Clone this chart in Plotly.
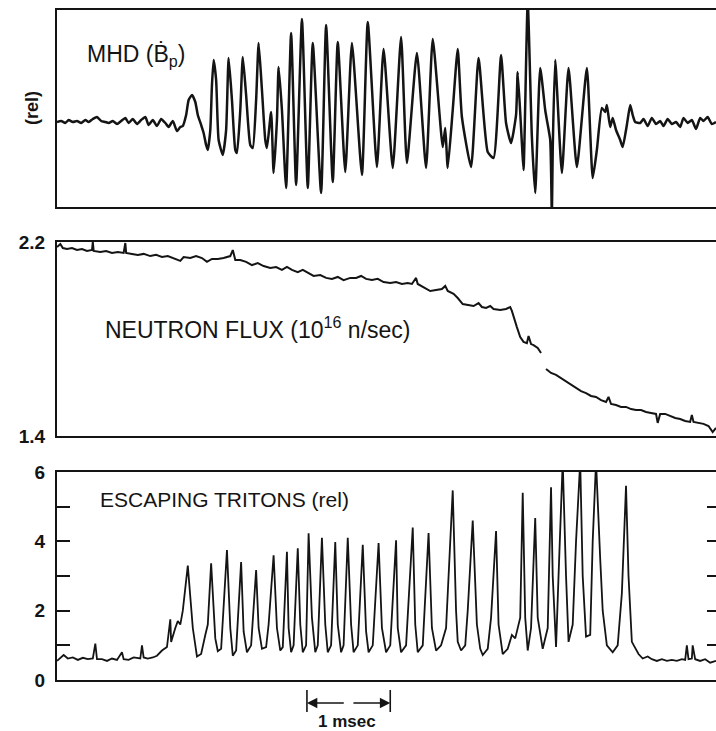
import plotly.graph_objects as go

# ---------------- data (time in ms from left edge of the record) ----------------
mhd_t = [0.00, 0.05, 0.10, 0.14, 0.19, 0.24, 0.29, 0.34, 0.38, 0.43, 0.48, 0.53, 0.58, 0.62,
         0.67, 0.72, 0.77, 0.82, 0.86, 0.91, 0.96, 1.01, 1.06, 1.10, 1.15, 1.20, 1.25, 1.30,
         1.34, 1.39, 1.44, 1.48, 1.51, 1.55, 1.58, 1.62, 1.66, 1.69, 1.73, 1.76, 1.79, 1.81,
         1.84, 1.86, 1.88, 1.91, 1.94, 1.99, 2.03, 2.06, 2.10, 2.14, 2.16, 2.20, 2.23, 2.27,
         2.32, 2.35, 2.39, 2.42, 2.46, 2.50, 2.52, 2.57, 2.60, 2.64, 2.66, 2.70, 2.75, 2.81,
         2.87, 2.94, 3.01, 3.07, 3.17, 3.23, 3.31, 3.37, 3.46, 3.54, 3.66, 3.73, 3.84, 3.92,
         4.03, 4.13, 4.20, 4.32, 4.43, 4.51, 4.63, 4.66, 4.69, 4.75, 4.81, 4.86, 4.97, 5.06,
         5.17, 5.24, 5.33, 5.39, 5.45, 5.51, 5.53, 5.58, 5.60, 5.65, 5.70, 5.74, 5.80, 5.86,
         5.88, 5.92, 5.94, 5.95, 5.98, 6.06, 6.14, 6.24, 6.36, 6.43, 6.48, 6.54, 6.58, 6.60,
         6.64, 6.67, 6.71, 6.76, 6.79, 6.84, 6.88, 6.91, 6.94, 7.00, 7.04, 7.09, 7.14, 7.19,
         7.24, 7.28, 7.33, 7.38, 7.43, 7.48, 7.52, 7.57, 7.62, 7.67, 7.72, 7.76, 7.81, 7.86,
         7.91]
mhd_v = [0.0, 0.1, -0.1, 0.2, 0.0, 0.1, -0.1, 0.2, 0.0, 0.3, 0.5, 0.1, 0.0, -0.1,
         0.1, -0.2, 0.1, 0.4, -0.1, 0.3, -0.2, 0.2, 0.5, -0.3, 0.2, -0.4, 0.3, -0.1,
         -0.5, 0.1, -0.9, -0.5, -0.4, 0.7, 2.2, 2.7, 2.0, 0.7, -0.3, -1.1, -2.3, -2.8,
         -0.8, 3.7, 6.2, 4.2, -1.8, -3.3, -0.8, 6.4, 2.2, -2.8, -3.1, 1.2, 6.5, 2.7,
         -2.3, -2.6, 2.2, 7.9, 3.2, -1.8, -2.6, 1.0, -5.1, 0.2, 5.5, 1.2, -6.6, 8.9,
         -6.3, 10.3, -6.6, 7.9, -7.1, 9.7, -6.0, 8.0, -5.0, 7.9, -5.3, 10.0, -4.5, 7.3,
         -4.6, 8.5, -4.1, 6.9, -4.6, 8.3, -2.5, -0.6, -4.6, 1.2, 7.3, 0.5, -4.5, 6.4,
         -3.0, -3.6, 6.7, -0.1, -2.1, 0.7, 5.0, -2.1, -4.8, 12.0, -1.5, -7.1, 5.4, 1.2,
         0.2, -1.8, -9.5, -2.8, 6.2, -5.1, 5.4, -4.5, 5.4, -5.6, -2.8, 1.4, 1.0, 1.7,
         -0.5, 0.4, -0.8, -1.8, -2.5, -0.3, 1.7, 0.7, 0.0, -0.1, 0.3, -0.4, 0.4, -0.2,
         0.1, -0.4, 0.3, -0.2, 0.0, -0.5, 0.4, -0.1, 0.2, -0.7, 0.4, 0.1, 0.5, -0.2,
         0.0]

neutron_t = [0.00, 0.04, 0.07, 0.12, 0.18, 0.24, 0.30, 0.36, 0.42, 0.43, 0.44, 0.52, 0.59, 0.66,
             0.73, 0.80, 0.82, 0.83, 0.90, 0.97, 1.04, 1.12, 1.19, 1.26, 1.33, 1.40, 1.48, 1.52,
             1.60, 1.67, 1.74, 1.80, 1.86, 1.93, 2.00, 2.08, 2.11, 2.14, 2.20, 2.27, 2.34, 2.41,
             2.48, 2.56, 2.63, 2.70, 2.76, 2.82, 2.89, 2.95, 3.01, 3.08, 3.16, 3.23, 3.30, 3.37,
             3.44, 3.52, 3.59, 3.65, 3.71, 3.78, 3.85, 3.92, 4.00, 4.07, 4.14, 4.21, 4.26, 4.31,
             4.33, 4.40, 4.48, 4.55, 4.62, 4.66, 4.69, 4.76, 4.81, 4.87, 4.93, 5.00, 5.06, 5.10,
             5.15, 5.20, 5.24, 5.32, 5.39, 5.44, 5.46, 5.48, 5.52, 5.56, 5.60, 5.64, 5.66, 5.69,
             5.72, 5.77, 5.81, 5.84, 5.87, 5.93, 5.99, 6.05, 6.11, 6.17, 6.23, 6.29, 6.35, 6.41,
             6.47, 6.53, 6.59, 6.62, 6.65, 6.71, 6.77, 6.83, 6.89, 6.95, 7.01, 7.07, 7.13, 7.19,
             7.21, 7.24, 7.30, 7.36, 7.42, 7.48, 7.54, 7.60, 7.62, 7.64, 7.70, 7.76, 7.82, 7.87,
             7.91]
neutron_v = [2.179, 2.192, 2.175, 2.171, 2.175, 2.167, 2.171, 2.163, 2.167, 2.200, 2.163, 2.159, 2.163, 2.155,
             2.159, 2.155, 2.196, 2.155, 2.151, 2.147, 2.151, 2.142, 2.147, 2.138, 2.142, 2.134, 2.122, 2.138,
             2.134, 2.142, 2.134, 2.118, 2.130, 2.130, 2.134, 2.142, 2.167, 2.126, 2.126, 2.118, 2.105, 2.113,
             2.101, 2.093, 2.097, 2.085, 2.097, 2.085, 2.076, 2.085, 2.072, 2.060, 2.064, 2.052, 2.048, 2.056,
             2.043, 2.052, 2.052, 2.060, 2.048, 2.043, 2.048, 2.035, 2.031, 2.035, 2.027, 2.031, 2.027, 2.052,
             2.027, 2.014, 1.998, 2.002, 2.006, 2.019, 1.998, 1.986, 1.969, 1.944, 1.940, 1.936, 1.948, 1.932,
             1.928, 1.936, 1.924, 1.920, 1.924, 1.932, 1.916, 1.891, 1.849, 1.808, 1.788, 1.783, 1.812, 1.779,
             1.775, 1.763, 1.742, None, 1.676, 1.660, 1.652, 1.639, 1.627, 1.614, 1.598, 1.585, 1.577, 1.565,
             1.561, 1.548, 1.540, 1.561, 1.532, 1.528, 1.520, 1.520, 1.511, 1.507, 1.507, 1.499, 1.495, 1.491,
             1.454, 1.491, 1.491, 1.482, 1.474, 1.470, 1.462, 1.458, 1.487, 1.458, 1.454, 1.450, 1.441, 1.416,
             1.433]

triton_t = [0.00, 0.04, 0.08, 0.13, 0.19, 0.25, 0.31, 0.37, 0.43, 0.46, 0.48, 0.54, 0.60, 0.66,
            0.72, 0.78, 0.80, 0.86, 0.92, 1.00, 1.02, 1.04, 1.09, 1.15, 1.20, 1.26, 1.32, 1.36,
            1.37, 1.42, 1.45, 1.48, 1.51, 1.57, 1.63, 1.68, 1.73, 1.78, 1.81, 1.85, 1.90, 1.93,
            1.97, 2.04, 2.08, 2.11, 2.15, 2.21, 2.24, 2.28, 2.33, 2.39, 2.42, 2.46, 2.51, 2.54,
            2.60, 2.64, 2.68, 2.71, 2.76, 2.78, 2.81, 2.84, 2.89, 2.92, 2.95, 2.99, 3.02, 3.06,
            3.10, 3.13, 3.18, 3.22, 3.25, 3.29, 3.34, 3.37, 3.41, 3.44, 3.49, 3.53, 3.56, 3.61,
            3.67, 3.71, 3.74, 3.79, 3.86, 3.90, 3.95, 4.00, 4.07, 4.09, 4.13, 4.19, 4.27, 4.30,
            4.33, 4.39, 4.46, 4.50, 4.55, 4.61, 4.67, 4.75, 4.79, 4.81, 4.85, 4.90, 4.93, 4.99,
            5.04, 5.08, 5.11, 5.17, 5.21, 5.27, 5.30, 5.35, 5.41, 5.46, 5.50, 5.56, 5.59, 5.62,
            5.65, 5.69, 5.74, 5.77, 5.83, 5.89, 5.93, 5.95, 5.99, 6.02, 6.07, 6.11, 6.14, 6.19,
            6.23, 6.28, 6.31, 6.35, 6.40, 6.43, 6.47, 6.52, 6.55, 6.60, 6.67, 6.73, 6.78, 6.83,
            6.86, 6.90, 6.95, 6.98, 7.03, 7.09, 7.14, 7.20, 7.26, 7.32, 7.38, 7.44, 7.50, 7.54,
            7.56, 7.58, 7.62, 7.63, 7.66, 7.72, 7.78, 7.84, 7.91]
triton_v = [0.55, 0.65, 0.72, 0.62, 0.65, 0.58, 0.64, 0.60, 0.62, 1.05, 0.60, 0.60, 0.55, 0.62,
            0.58, 0.80, 0.60, 0.58, 0.65, 0.62, 1.00, 0.65, 0.62, 0.65, 0.70, 0.85, 0.95, 1.75,
            1.10, 1.50, 1.70, 1.60, 2.00, 3.30, 1.50, 0.68, 0.75, 1.30, 1.60, 3.37, 1.20, 0.83,
            0.90, 3.75, 1.50, 0.70, 0.85, 3.40, 1.40, 0.80, 1.00, 3.17, 1.50, 0.90, 0.95, 1.60,
            3.60, 1.50, 0.85, 0.95, 3.70, 1.50, 0.80, 1.00, 3.80, 1.60, 0.80, 1.00, 4.23, 1.80,
            0.80, 1.00, 4.10, 1.60, 0.80, 1.00, 3.98, 1.60, 0.80, 1.00, 4.10, 1.60, 0.80, 1.00,
            3.90, 1.40, 0.80, 1.00, 3.95, 1.50, 0.80, 1.00, 4.03, 1.50, 0.80, 1.00, 4.40, 1.60,
            0.80, 1.00, 4.24, 1.50, 0.85, 1.00, 1.50, 5.47, 2.00, 1.10, 0.85, 1.00, 2.00, 4.60,
            1.60, 0.90, 0.72, 0.90, 1.80, 4.30, 1.60, 0.75, 0.90, 1.30, 1.20, 1.80, 5.40, 1.80,
            0.85, 1.50, 4.67, 1.80, 0.90, 1.50, 5.56, 3.00, 0.95, 3.00, 6.30, 3.00, 1.10, 1.60,
            4.00, 6.30, 3.00, 1.25, 1.30, 4.00, 6.30, 3.50, 2.00, 1.00, 0.80, 1.00, 2.50, 5.60,
            3.00, 1.10, 0.90, 0.75, 0.62, 0.68, 0.60, 0.55, 0.60, 0.55, 0.58, 0.55, 0.60, 0.58,
            1.00, 0.60, 0.62, 1.00, 0.60, 0.55, 0.60, 0.50, 0.55]

neutron_ticks = [1.4, 2.2]
neutron_ticktext = ["1.4", "2.2"]
triton_ticks = [0, 1, 2, 3, 4, 5, 6]
triton_ticktext = ["0", "", "2", "", "4", "", "6"]
triton_right_ticks = [1, 2, 3, 4, 5]
scale_bar_ms = [3.0, 4.0]

T_MAX = 7.91
INK = "#141414"
FONT = "Liberation Sans"

fig = go.Figure()
fig.add_trace(go.Scatter(x=mhd_t, y=mhd_v, mode="lines", xaxis="x", yaxis="y",
                         line=dict(color=INK, width=2.5, shape="spline", smoothing=0.5),
                         hoverinfo="skip"))
fig.add_trace(go.Scatter(x=neutron_t, y=neutron_v, mode="lines", xaxis="x2", yaxis="y2",
                         line=dict(color=INK, width=2.0), connectgaps=False, hoverinfo="skip"))
fig.add_trace(go.Scatter(x=triton_t, y=triton_v, mode="lines", xaxis="x3", yaxis="y3",
                         line=dict(color=INK, width=1.8), hoverinfo="skip"))
fig.add_trace(go.Scatter(x=[None], y=[None], mode="lines", xaxis="x3", yaxis="y4",
                         hoverinfo="skip"))

frame = dict(showgrid=False, zeroline=False, showline=True, linecolor=INK, linewidth=2)
tickfont = dict(family=FONT, size=19, color=INK, weight="bold")

fig.update_layout(
    width=716, height=731,
    margin=dict(l=57, r=0, t=10, b=51),
    paper_bgcolor="white", plot_bgcolor="white",
    showlegend=False,
    font=dict(family=FONT, color=INK),
    xaxis=dict(domain=[0, 1], anchor="y", range=[0, T_MAX], mirror=True,
               ticks="", showticklabels=False, **frame),
    yaxis=dict(domain=[0.706, 1], anchor="x", range=[-8.5, 11.2],
               ticks="", showticklabels=False, **frame),
    xaxis2=dict(domain=[0, 1], anchor="y2", range=[0, T_MAX], mirror=True,
                ticks="", showticklabels=False, **frame),
    yaxis2=dict(domain=[0.3642, 0.6537], anchor="x2", range=[1.4, 2.2],
                tickvals=neutron_ticks, ticktext=neutron_ticktext, ticks="",
                tickfont=tickfont, ticklabelstandoff=6, **frame),
    xaxis3=dict(domain=[0, 1], anchor="y3", range=[0, T_MAX], mirror=True,
                ticks="", showticklabels=False, **frame),
    yaxis3=dict(domain=[0, 0.3104], anchor="x3", range=[0, 6],
                tickvals=triton_ticks, ticktext=triton_ticktext,
                ticks="inside", ticklen=13, tickwidth=1.5, tickcolor=INK,
                tickfont=tickfont, ticklabelstandoff=6, **frame),
    yaxis4=dict(overlaying="y3", anchor="x3", side="right", range=[0, 6],
                tickvals=triton_right_ticks, ticks="inside", ticklen=9,
                tickwidth=1.5, tickcolor=INK, showticklabels=False,
                showgrid=False, zeroline=False, showline=False),
)

fig.add_annotation(text="MHD (Ḃ<sub>p</sub>)", x=0.0425, y=0.9328, xref="paper", yref="paper",
                   xanchor="left", yanchor="middle", showarrow=False,
                   font=dict(family=FONT, size=23, color=INK))
fig.add_annotation(text="(rel)", x=-0.038, y=0.8537, xref="paper", yref="paper",
                   textangle=-90, xanchor="center", yanchor="middle", showarrow=False,
                   font=dict(family=FONT, size=18, color=INK, weight="bold"))
fig.add_annotation(text="NEUTRON FLUX (10<sup>16</sup> n/sec)", x=0.0698, y=0.5254,
                   xref="paper", yref="paper", xanchor="left", yanchor="middle",
                   showarrow=False, font=dict(family=FONT, size=23, color=INK))
fig.add_annotation(text="ESCAPING TRITONS (rel)", x=0.0622, y=0.2687,
                   xref="paper", yref="paper", xanchor="left", yanchor="middle",
                   showarrow=False, font=dict(family=FONT, size=21, color=INK))

# 1 msec scale bar below the bottom panel
left, right = scale_bar_ms
for xv in scale_bar_ms:
    fig.add_shape(type="line", xref="x3", yref="paper", x0=xv, x1=xv, y0=-0.0149, y1=-0.0478,
                  line=dict(color=INK, width=1.6))
mid = (left + right) / 2
fig.add_annotation(x=left, y=-0.0343, xref="x3", yref="paper", ax=mid - 0.04, ay=0,
                   axref="x3", ayref="pixel", text="", showarrow=True, arrowhead=2,
                   arrowsize=1.3, arrowwidth=1.6, arrowcolor=INK, standoff=0, startstandoff=0)
fig.add_annotation(x=right, y=-0.0343, xref="x3", yref="paper", ax=mid + 0.04, ay=0,
                   axref="x3", ayref="pixel", text="", showarrow=True, arrowhead=2,
                   arrowsize=1.3, arrowwidth=1.6, arrowcolor=INK, standoff=0, startstandoff=0)
fig.add_annotation(text="1 msec", x=mid - 0.02, y=-0.0612, xref="x3", yref="paper",
                   xanchor="center", yanchor="middle", showarrow=False,
                   font=dict(family=FONT, size=17, color=INK, weight="bold"))

fig.write_html("out.html", config={"displayModeBar": False},
               post_script="document.body.style.margin='0px';")
